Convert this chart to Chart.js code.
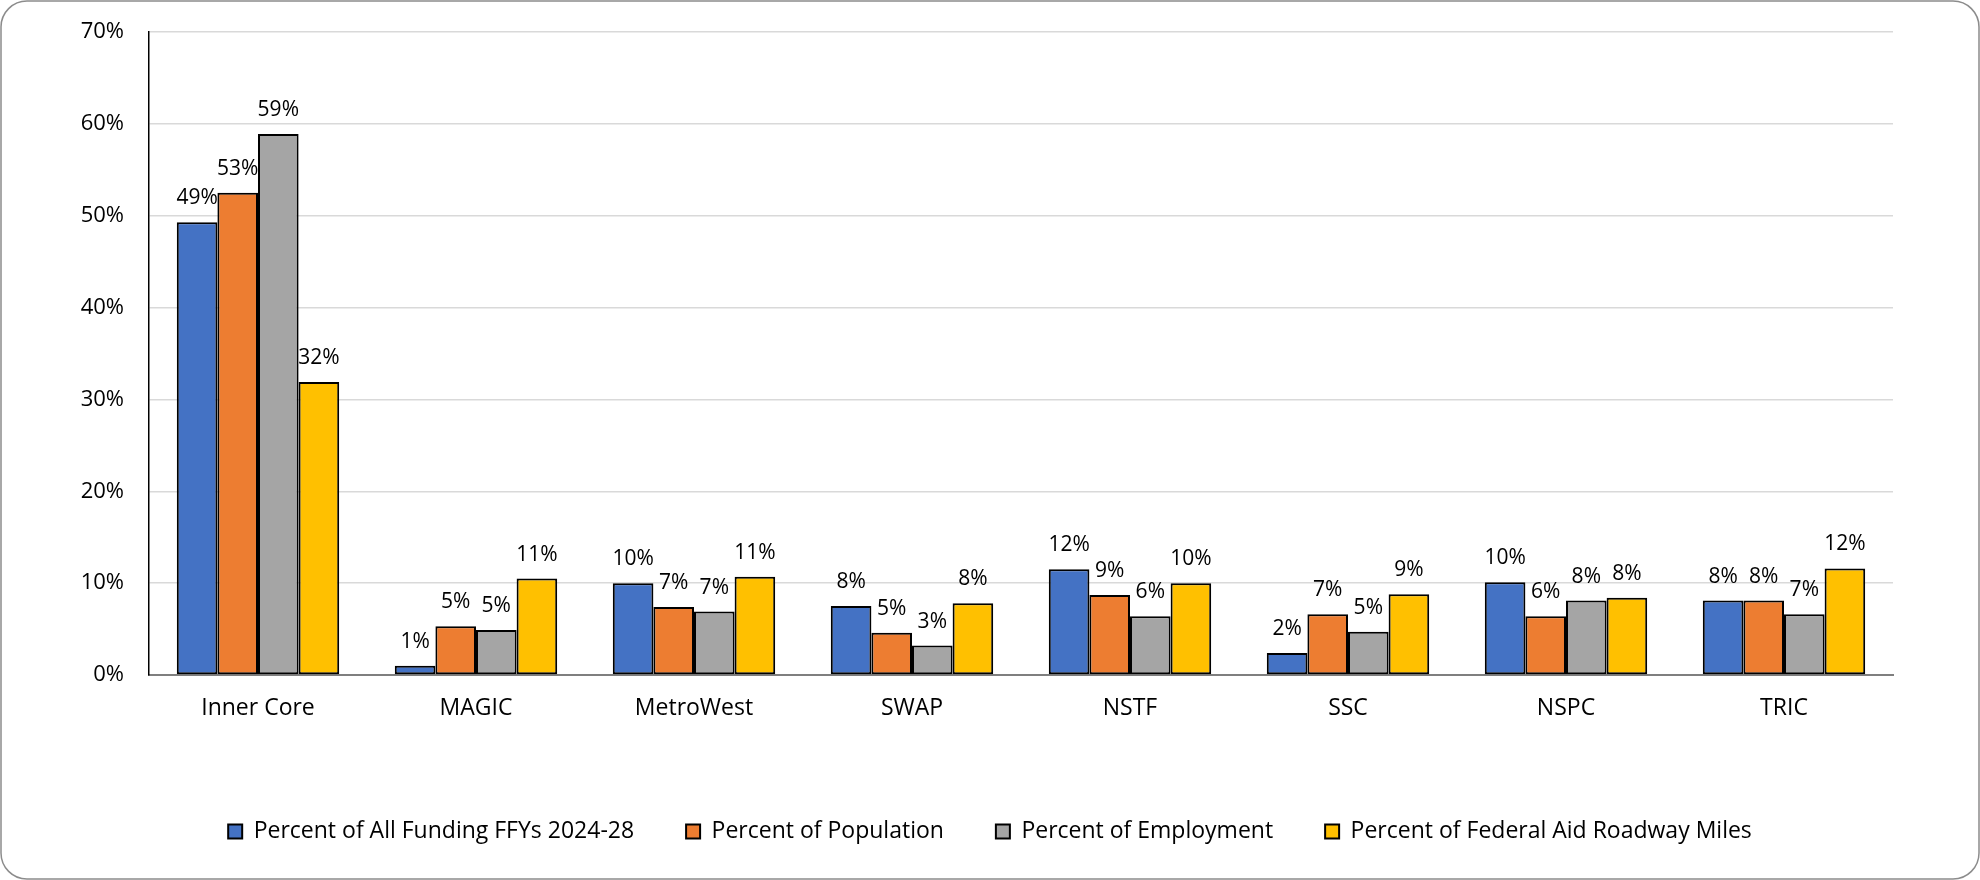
<!DOCTYPE html>
<html>
<head>
<meta charset="utf-8">
<title>Funding share by subregion</title>
<script src="https://cdn.jsdelivr.net/npm/chart.js@4.4.0/dist/chart.umd.min.js"></script>
<style>
    html, body { margin: 0; padding: 0; background: #ffffff; }
    canvas { display: block; }
</style>
</head>
<body>
<canvas id="fundingChart" width="1980" height="880"></canvas>
<script>
// subregions along the x axis
const subregions = ["Inner Core", "MAGIC", "MetroWest", "SWAP", "NSTF", "SSC", "NSPC", "TRIC"];

// values, in percent
const fundingShare = [49.3, 1.0, 10.0, 7.5, 11.5, 2.4, 10.1, 8.1];
const populationShare = [52.5, 5.3, 7.4, 4.6, 8.7, 6.6, 6.4, 8.1];
const employmentShare = [58.9, 4.9, 6.9, 3.2, 6.4, 4.7, 8.1, 6.6];
const roadwayShare = [31.9, 10.5, 10.7, 7.8, 10.0, 8.8, 8.4, 11.6];

const yTicks = [0, 10, 20, 30, 40, 50, 60, 70];

const seriesNames = [
    "Percent of All Funding FFYs 2024-28",
    "Percent of Population",
    "Percent of Employment",
    "Percent of Federal Aid Roadway Miles"
];
const seriesColors = ["#4472C4", "#ED7D31", "#A5A5A5", "#FFC000"];

const fontFamily = '"Open Sans", "Noto Sans", sans-serif';

// white card with the thin rounded frame
const cardFrame = {
    id: "cardFrame",
    beforeDraw(chart) {
        const ctx = chart.ctx;
        ctx.save();
        ctx.fillStyle = "#ffffff";
        ctx.fillRect(0, 0, chart.width, chart.height);
        ctx.beginPath();
        ctx.roundRect(1, 1, chart.width - 2, chart.height - 2, 26);
        ctx.strokeStyle = "#8c8c8c";
        ctx.lineWidth = 1.5;
        ctx.stroke();
        ctx.restore();
    }
};

// rounded percent written over every bar
const barLabels = {
    id: "barLabels",
    afterDatasetsDraw(chart) {
        const ctx = chart.ctx;
        ctx.save();
        ctx.font = "21px " + fontFamily;
        ctx.fillStyle = "#000000";
        ctx.textAlign = "center";
        ctx.textBaseline = "alphabetic";
        chart.data.datasets.forEach((ds, i) => {
            chart.getDatasetMeta(i).data.forEach((bar, j) => {
                ctx.fillText(Math.round(ds.data[j]) + "%", bar.x, bar.y - 18);
            });
        });
        ctx.restore();
    }
};

const allSeries = [fundingShare, populationShare, employmentShare, roadwayShare];

new Chart(document.getElementById("fundingChart"), {
    type: "bar",
    data: {
        labels: subregions,
        datasets: allSeries.map((values, i) => ({
            label: seriesNames[i],
            data: values,
            backgroundColor: seriesColors[i],
            borderColor: "#000000",
            borderWidth: 2,
            borderSkipped: false,
            categoryPercentage: 0.745,
            barPercentage: 1.0
        }))
    },
    options: {
        responsive: false,
        devicePixelRatio: 1,
        animation: false,
        layout: { padding: { left: 0, right: 0, top: 32, bottom: 27 } },
        plugins: {
            tooltip: { enabled: false },
            legend: {
                position: "bottom",
                labels: {
                    boxWidth: 14,
                    boxHeight: 14,
                    padding: 52,
                    color: "#000000",
                    font: { family: fontFamily, size: 23 }
                }
            }
        },
        scales: {
            x: {
                grid: { display: false, drawTicks: false },
                border: { display: true, color: "#7f7f7f", width: 2 },
                ticks: {
                    padding: 20,
                    color: "#000000",
                    font: { family: fontFamily, size: 23 }
                },
                afterFit: (scale) => { scale.height = 93; }
            },
            y: {
                min: 0,
                max: 70,
                afterBuildTicks: (scale) => { scale.ticks = yTicks.map(v => ({ value: v })); },
                grid: { color: "#d9d9d9", lineWidth: 1.5, drawTicks: false },
                border: { display: true, color: "#000000", width: 1.5 },
                ticks: {
                    padding: 25,
                    color: "#000000",
                    font: { family: fontFamily, size: 22 },
                    callback: (v) => v + "%"
                },
                afterFit: (scale) => {
                    scale.width = 149;
                    // tick padding would otherwise push the plot top down
                    scale.paddingTop = 0;
                    scale.paddingBottom = 0;
                }
            },
            // empty right axis only keeps the plot clear of the right edge
            yRight: {
                position: "right",
                display: true,
                grid: { display: false, drawTicks: false },
                border: { display: false },
                ticks: { display: false },
                afterFit: (scale) => { scale.width = 87; }
            }
        }
    },
    plugins: [cardFrame, barLabels]
});
</script>
</body>
</html>
